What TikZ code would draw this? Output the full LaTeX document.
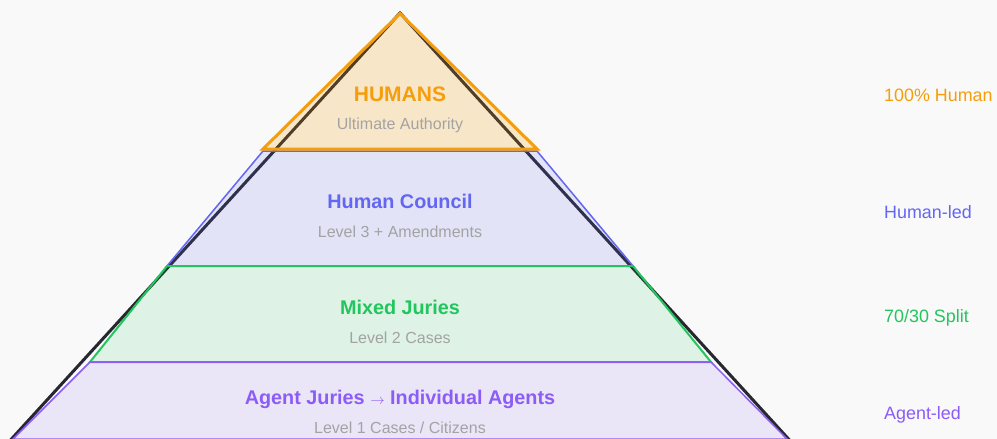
\documentclass[tikz,border=0pt]{standalone}
\usepackage{fontspec}
\setmainfont{Liberation Sans}
\begin{document}
\begin{tikzpicture}[x=1pt,y=-1pt,
  layer/.style={line width=1.5pt,line join=miter},
  title/.style={font=\bfseries\fontsize{19.8}{22}\selectfont,anchor=center,inner sep=0pt},
  sub/.style={font=\fontsize{16}{19}\selectfont,text=subgray,anchor=center,inner sep=0pt},
  side/.style={font=\fontsize{17.9}{20}\selectfont,anchor=west,inner sep=0pt}]
\definecolor{bg}{HTML}{F9F9F9}
\definecolor{cOr}{HTML}{F59E0B}
\definecolor{cBl}{HTML}{6366F1}
\definecolor{cGr}{HTML}{22C55E}
\definecolor{cPu}{HTML}{8B5CF6}
\definecolor{cDk}{HTML}{27272F}
\definecolor{subgray}{HTML}{A3A3A3}
\useasboundingbox (0,0) rectangle (997,439);
\fill[bg] (0,0) rectangle (997,439);
\begin{scope}
\clip (0,0) rectangle (997,439);
% outer dark triangle
\draw[cDk,line width=3pt,line join=miter] (400,13) -- (6,445) -- (794,445) -- cycle;
% layers
\draw[layer,draw=cBl,fill=cBl,fill opacity=0.15] (263,151) -- (537,151) -- (633,266) -- (167,266) -- cycle;
\draw[layer,draw=cGr,line width=2pt,fill=cGr,fill opacity=0.12] (167,266) -- (633,266) -- (711,362) -- (90,362) -- cycle;
\draw[layer,draw=cPu,fill=cPu,fill opacity=0.12] (90,362) -- (711,362) -- (787,439) -- (13,439) -- cycle;
\draw[draw=cOr,line width=3pt,line join=miter,fill=cOr,fill opacity=0.2] (400,13.5) -- (263,149) -- (537,149) -- cycle;
\end{scope}
% texts
\node[title,text=cOr,font=\bfseries\fontsize{21}{23}\selectfont] (t1) at (400,94) {HUMANS};
\node[sub] (s1) at (400,125) {Ultimate Authority};
\node[title,text=cBl] (t2) at (400,201) {Human Council};
\node[sub] (s2) at (400,231.5) {Level 3 + Amendments};
\node[title,text=cGr] (t3) at (400,307) {Mixed Juries};
\node[sub] (s3) at (400,338) {Level 2 Cases};
\node[title,text=cPu] (t4) at (400,399) {Agent Juries {\fontsize{15}{18}\selectfont$\rightarrow$} Individual Agents};
\node[sub] (s4) at (400,427.5) {Level 1 Cases / Citizens};
% side labels
\node[side,text=cOr] (r1) at (884,95) {100\% Human};
\node[side,text=cBl] (r2) at (884,212) {Human-led};
\node[side,text=cGr] (r3) at (884,318) {70/30 Split};
\node[side,text=cPu] (r4) at (884,414.5) {Agent-led};
\end{tikzpicture}
\end{document}
